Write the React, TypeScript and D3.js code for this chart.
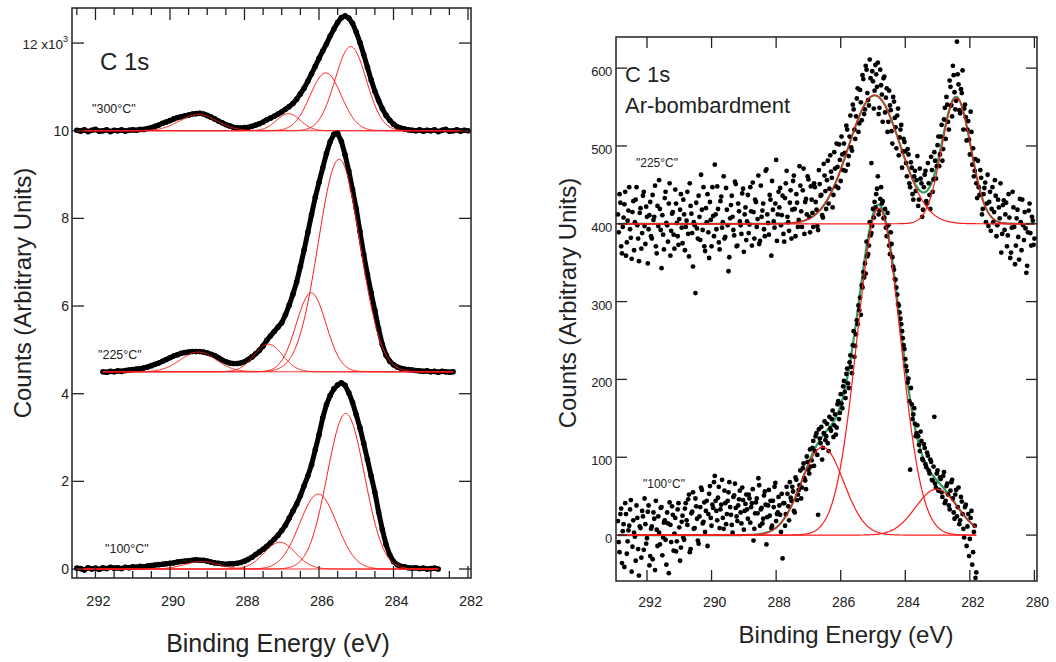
import React, { useRef, useEffect } from 'react';
import * as d3 from 'd3';

// ---------- left panel: C 1s after annealing, counts in units of 10^3, 0.1 eV steps
const LEFT_STEP = 0.1;
const spec300Start = 292.5;
const spec300 = [
  10.01, 9.99, 10.02, 9.98, 10.01, 10.03, 9.99, 10.0, 10.02, 9.98,
  10.01, 10.0, 10.02, 9.99, 10.01, 10.02, 10.01, 10.03, 10.03, 10.05,
  10.07, 10.1, 10.13, 10.17, 10.2, 10.23, 10.27, 10.3, 10.32, 10.34,
  10.36, 10.38, 10.39, 10.4, 10.38, 10.35, 10.31, 10.27, 10.22, 10.18,
  10.14, 10.11, 10.08, 10.07, 10.06, 10.07, 10.08, 10.1, 10.13, 10.16,
  10.2, 10.25, 10.29, 10.33, 10.38, 10.43, 10.49, 10.55, 10.62, 10.72,
  10.84, 10.97, 11.13, 11.3, 11.47, 11.65, 11.82, 11.98, 12.16, 12.32,
  12.47, 12.58, 12.62, 12.57, 12.45, 12.25, 12.01, 11.74, 11.45, 11.16,
  10.9, 10.69, 10.5, 10.35, 10.24, 10.15, 10.09, 10.06, 10.04, 10.02,
  10.01, 10.0, 10.02, 9.99, 10.01, 10.0, 10.02, 9.98, 10.01, 10.03,
  9.99, 10.0, 10.02, 9.99, 10.01, 10.0,
];
const spec225Start = 291.8;
const spec225 = [
  4.5, 4.49, 4.51, 4.5, 4.52, 4.51, 4.53, 4.54, 4.55, 4.56,
  4.57, 4.59, 4.61, 4.64, 4.67, 4.7, 4.74, 4.78, 4.82, 4.86,
  4.89, 4.92, 4.94, 4.95, 4.96, 4.96, 4.96, 4.95, 4.93, 4.9,
  4.87, 4.82, 4.77, 4.73, 4.7, 4.69, 4.69, 4.7, 4.73, 4.78,
  4.84, 4.91, 4.99, 5.09, 5.22, 5.32, 5.42, 5.52, 5.62, 5.8,
  6.02, 6.27, 6.55, 6.9, 7.28, 7.68, 8.09, 8.48, 8.82, 9.15,
  9.48, 9.75, 9.92, 9.94, 9.76, 9.45, 9.08, 8.66, 8.22, 7.7,
  7.18, 6.72, 6.3, 5.9, 5.48, 5.12, 4.88, 4.74, 4.66, 4.61,
  4.58, 4.56, 4.55, 4.54, 4.53, 4.52, 4.51, 4.52, 4.5, 4.51,
  4.49, 4.51, 4.5, 4.49, 4.5,
];
const spec100Start = 292.5;
const spec100 = [
  0.02, 0.01, -0.02, 0.03, 0.0, 0.02, -0.01, 0.03, 0.01, 0.04,
  0.02, 0.03, 0.01, 0.04, 0.03, 0.05, 0.04, 0.06, 0.05, 0.07,
  0.08, 0.09, 0.1, 0.11, 0.12, 0.13, 0.14, 0.16, 0.17, 0.18,
  0.19, 0.2, 0.21, 0.2, 0.2, 0.18, 0.16, 0.14, 0.13, 0.12,
  0.11, 0.12, 0.12, 0.13, 0.15, 0.18, 0.22, 0.27, 0.33, 0.39,
  0.45, 0.52, 0.6, 0.68, 0.77, 0.88, 1.0, 1.16, 1.32, 1.48,
  1.67, 1.9, 2.12, 2.38, 2.72, 3.06, 3.45, 3.75, 3.96, 4.11,
  4.2, 4.25, 4.19, 4.02, 3.8, 3.52, 3.22, 2.87, 2.5, 2.12,
  1.75, 1.3, 0.9, 0.56, 0.32, 0.17, 0.1, 0.06, 0.05, 0.03,
  0.02, 0.03, 0.01, 0.02, 0.0, 0.01, 0.02, 0.0,
];
// fit components: [centre eV, height above baseline, sigma eV]
const fit300 = [[285.15, 1.92, 0.42], [285.82, 1.32, 0.42], [286.82, 0.39, 0.32], [289.24, 0.37, 0.5]];
const fit225 = [[285.46, 4.85, 0.56], [286.21, 1.8, 0.4], [287.36, 0.63, 0.38], [289.24, 0.45, 0.48]];
const fit100 = [[285.28, 3.55, 0.5], [286.02, 1.71, 0.5], [287.05, 0.61, 0.42], [289.15, 0.17, 0.45]];
const leftBaselines = [10, 4.5, 0];
const leftLabels = ['"300°C"', '"225°C"', '"100°C"'];
const leftXTicks = [292, 290, 288, 286, 284, 282];
const leftYTicks = [0, 2, 4, 6, 8, 10, 12];

// ---------- right panel: C 1s after Ar bombardment, two interleaved scans, 0.05 eV steps
const RIGHT_STEP = 0.05;
const ar225Start = 292.9;
const ar225 = [
  412, 438, 371, 396, 425, 359, 404, 447, 382, 415, 366, 431, 398, 352, 420, 388, 441, 374, 409, 393,
  428, 381, 405, 449, 362, 397, 419, 343, 386, 433, 401, 377, 452, 391, 415, 368, 426, 384, 406, 438,
  375, 412, 396, 441, 358, 423, 388, 402, 311, 394, 436, 379, 418, 447, 365, 402, 389, 428, 371, 410,
  476, 393, 419, 367, 435, 402, 381, 446, 398, 357, 424, 409, 385, 451, 372, 416, 398, 439, 364, 421,
  403, 388, 447, 372, 415, 431, 396, 462, 378, 409, 426, 384, 470, 401, 437, 359, 418, 395, 482, 412,
  421, 398, 436, 377, 452, 409, 391, 443, 418, 462, 384, 427, 405, 449, 396, 471, 428, 412, 457, 389,
  431, 396, 447, 418, 392, 451, 437, 408, 462, 419, 481, 445, 467, 421, 492, 448, 473, 502, 455, 489,
  503, 468, 521, 487, 539, 494, 547, 509, 561, 518, 572, 533, 586, 547, 598, 559, 611, 478, 583, 571,
  592, 607, 549, 578, 531, 589, 562, 518, 571, 546, 503, 557, 524, 539, 488, 521, 472, 509, 493, 461,
  489, 447, 472, 431, 468, 456, 423, 471, 452, 418, 463, 429, 478, 437, 486, 441, 492, 458, 501, 474,
  512, 481, 534, 509, 553, 521, 576, 538, 591, 547, 634, 579, 542, 568, 521, 553, 507, 532, 489, 518,
  497, 468, 452, 481, 437, 459, 419, 446, 402, 463, 428, 391, 447, 415, 436, 398, 421, 452, 387, 430,
  412, 371, 438, 356, 395, 421, 348, 407, 383, 432, 366, 398, 415, 337, 389, 426, 372, 404, 381,
];
const ar225bStart = 292.875;
const ar225b = [
  389, 427, 362, 408, 441, 376, 417, 393, 355, 429, 402, 447, 381, 414, 368, 436, 397, 422, 349, 411,
  384, 437, 409, 371, 423, 456, 392, 411, 367, 441, 398, 426, 359, 413, 386, 444, 401, 373, 418, 395,
  431, 366, 404, 387, 452, 413, 345, 398, 427, 381, 409, 463, 392, 371, 420, 438, 356, 405, 447, 384,
  412, 448, 376, 429, 395, 461, 383, 418, 339, 407, 436, 392, 454, 371, 426, 403, 387, 445, 412, 379,
  437, 399, 416, 453, 381, 428, 406, 374, 449, 417, 393, 468, 412, 386, 431, 455, 403, 426, 378, 441,
  446, 411, 387, 433, 468, 402, 427, 381, 455, 419, 438, 396, 474, 416, 443, 387, 432, 461, 409, 448,
  414, 452, 428, 397, 469, 436, 411, 477, 442, 456, 426, 488, 459, 437, 471, 503, 446, 482, 512, 469,
  491, 526, 476, 512, 498, 553, 521, 538, 574, 529, 556, 591, 541, 603, 568, 552, 587, 596, 548, 604,
  576, 541, 598, 566, 587, 543, 574, 531, 552, 519, 563, 536, 497, 548, 511, 527, 493, 505, 478, 496,
  452, 479, 438, 461, 442, 487, 431, 458, 409, 447, 468, 426, 452, 419, 469, 457, 481, 474, 512, 489,
  527, 496, 549, 563, 531, 584, 552, 603, 569, 558, 592, 546, 573, 597, 548, 537, 521, 508, 544, 476,
  461, 483, 433, 447, 469, 412, 438, 453, 426, 397, 441, 419, 402, 456, 384, 431, 407, 363, 424, 392,
  427, 385, 408, 363, 441, 396, 372, 418, 354, 402, 431, 379, 394, 346, 417, 388, 409, 373,
];
const ar100Start = 292.9;
const ar100 = [
  18, -22, 34, 5, -41, 27, -8, 12, 45, -15, 3, -33, 22, -52, 9, 31, -19, 14, -4, 38,
  -27, 11, 29, -45, 7, 24, -12, 36, -3, 19, -38, 15, 42, -9, 26, 2, -21, 33, 10, -16,
  25, -6, 41, 13, 52, -18, 30, 8, 47, 21, -11, 36, 58, 17, 4, 44, 27, 63, 12, 35,
  76, 31, 48, 9, 39, 22, 57, 14, 44, 68, 26, 3, 51, 35, 18, 46, 29, 61, 7, 40,
  33, 52, 16, 41, -7, 28, 47, 73, 12, 35, 21, 56, -12, 38, 25, 9, 44, 62, 18, 29,
  38, 4, -30, 41, 27, 53, 19, 48, 62, 31, 74, 45, 58, 83, 61, 92, 70, 101, 84, 110,
  96, 121, 108, 131, 26, 124, 139, 112, 146, 127, 118, 152, 134, 160, 141, 129, 168, 149, 181, 163,
  198, 176, 214, 189, 231, 208, 262, 243, 276, 295, 305, 321, 338, 349, 377, 361, 402, 388, 419, 428,
  438, 461, 417, 447, 429, 408, 395, 414, 372, 389, 357, 341, 328, 309, 295, 278, 262, 244, 226, 211,
  201, 84, 168, 155, 143, 131, 127, 108, 121, 96, 112, 87, 102, 79, 94, 70, 152, 61, 83, 58,
  72, 49, 81, 44, 66, 38, 57, 71, 29, 52, 24, 61, 19, 43, 8, 36, -14, 27, -5, 31,
  -22, 12, -48,
];
const ar100bStart = 292.875;
const ar100b = [
  -9, 27, -36, 14, 41, -24, 6, 33, -47, 19, -2, 38, -18, 11, -29, 24, 47, -11, 30, -39,
  8, -31, 21, 44, -14, 3, 35, -26, 16, -6, 29, -49, 13, 37, -20, 22, -8, 41, -33, 17,
  -3, 34, 19, 46, -22, 28, 55, 9, 37, -7, 24, 61, 15, 42, 31, -14, 53, 22, 39, 68,
  44, 19, 62, 33, 71, 8, 41, 27, 55, 36, 13, 49, 66, 24, 38, 57, 15, 45, 31, 52,
  21, 47, 36, 59, 8, 42, 28, 64, 33, 15, 51, 39, 23, 58, 44, 12, 36, 67, 27, 49,
  26, 53, 41, 12, 62, 37, 68, 44, 56, 29, 71, 52, 64, 47, 86, 73, 59, 94, 79, 88,
  112, 89, 127, 103, 136, 118, 97, 131, 122, 143, 108, 137, 149, 126, 155, 138, 172, 157, 169, 191,
  184, 207, 195, 222, 216, 244, 229, 258, 271, 289, 283, 318, 331, 336, 358, 372, 385, 397, 408, 421,
  445, 412, 432, 426, 407, 419, 384, 398, 361, 374, 345, 329, 318, 297, 286, 271, 253, 239, 217, 196,
  172, 189, 149, 163, 127, 141, 116, 133, 98, 117, 91, 106, 83, 97, 71, 88, 66, 79, 57, 74,
  55, 76, 41, 63, 52, 33, 68, 47, 21, 58, 36, 14, 49, 27, -3, 39, 11, -27, 22, -38,
  4, -55,
];
const fitAr225 = [[284.95, 165, 0.8], [282.42, 162, 0.45]];
const fitAr100 = [[284.82, 420, 0.67], [286.56, 113, 0.65], [283.03, 59, 0.65]];
const rightBaselines = [400, 0];
const rightLabels = ['"225°C"', '"100°C"'];
const rightXTicks = [292, 290, 288, 286, 284, 282, 280];
const rightYTicks = [0, 100, 200, 300, 400, 500, 600];

const FONT = '"Liberation Sans", Arial, Helvetica, sans-serif';
const RED = '#ff1a1a';
const GREEN = '#2e9e5e';

const gauss = (e, c, h, s) => h * Math.exp(-((e - c) * (e - c)) / (2 * s * s));

export default function App() {
  const svgRef = useRef(null);

  useEffect(() => {
    const svg = d3.select(svgRef.current);
    svg.selectAll('*').remove();

    const toPoints = (start, step, vals) => vals.map((v, i) => [start - i * step, v]);

    // component / fit curves sampled over the span of a spectrum
    const curve = (e0, e1, base, comps) =>
      d3.range(0, Math.round((e0 - e1) / 0.02) + 1).map(i => {
        const e = e0 - i * 0.02;
        return [e, base + d3.sum(comps, c => gauss(e, c[0], c[1], c[2]))];
      });

    function frame(g, x, y, xMajor, xMinor, yMajor, majorLen, minorLen) {
      const [x0, x1] = x.range();
      const [y0, y1] = y.range(); // bottom, top
      const t = g.append('g').attr('stroke', '#222').attr('stroke-width', 1.3);
      xMajor.forEach(v => {
        t.append('line').attr('x1', x(v)).attr('x2', x(v)).attr('y1', y1).attr('y2', y1 + majorLen);
        t.append('line').attr('x1', x(v)).attr('x2', x(v)).attr('y1', y0).attr('y2', y0 - majorLen);
      });
      xMinor.forEach(v => {
        t.append('line').attr('x1', x(v)).attr('x2', x(v)).attr('y1', y1).attr('y2', y1 + minorLen);
        t.append('line').attr('x1', x(v)).attr('x2', x(v)).attr('y1', y0).attr('y2', y0 - minorLen);
      });
      yMajor.forEach(v => {
        t.append('line').attr('x1', x0).attr('x2', x0 + majorLen).attr('y1', y(v)).attr('y2', y(v));
        t.append('line').attr('x1', x1).attr('x2', x1 - majorLen).attr('y1', y(v)).attr('y2', y(v));
      });
      g.append('rect')
        .attr('x', x0).attr('y', y1).attr('width', x1 - x0).attr('height', y0 - y1)
        .attr('fill', 'none').attr('stroke', '#222').attr('stroke-width', 1.5);
    }

    // ================= left panel =================
    const xL = d3.scaleLinear().domain([292.63, 281.92]).range([72, 471]);
    const yL = d3.scaleLinear().domain([-0.205, 12.8]).range([578, 8]);
    const gL = svg.append('g');
    const lineL = d3.line().x(d => xL(d[0])).y(d => yL(d[1]));

    const leftSpectra = [
      { start: spec300Start, vals: spec300, fit: fit300 },
      { start: spec225Start, vals: spec225, fit: fit225 },
      { start: spec100Start, vals: spec100, fit: fit100 },
    ];
    leftSpectra.forEach((s, k) => {
      const pts = toPoints(s.start, LEFT_STEP, s.vals);
      gL.append('path').attr('d', lineL(pts)).attr('fill', 'none')
        .attr('stroke', '#000').attr('stroke-width', 5).attr('stroke-linejoin', 'round');
      gL.append('g').selectAll('circle').data(pts).join('circle')
        .attr('cx', d => xL(d[0])).attr('cy', d => yL(d[1])).attr('r', 2.8).attr('fill', '#000');
      const e0 = s.start;
      const e1 = s.start - (s.vals.length - 1) * LEFT_STEP;
      s.fit.forEach(c => {
        gL.append('path').attr('d', lineL(curve(e0, e1, leftBaselines[k], [c])))
          .attr('fill', 'none').attr('stroke', RED).attr('stroke-width', 1);
      });
    });

    const xMinorL = d3.range(292.5, 281.9, -0.5).filter(v => Math.abs(v - Math.round(v / 2) * 2) > 0.01);
    frame(gL, xL, yL, leftXTicks, xMinorL, leftYTicks, 12, 7);

    const tl = gL.append('g').style('font-family', FONT).attr('fill', '#222');
    leftXTicks.forEach(v => {
      tl.append('text').attr('x', xL(v) + 3).attr('y', 606).attr('text-anchor', 'middle')
        .style('font-size', '14.5px').text(v);
    });
    leftYTicks.filter(v => v < 12).forEach(v => {
      tl.append('text').attr('x', 69).attr('y', yL(v) + 5).attr('text-anchor', 'end')
        .style('font-size', '14px').text(v);
    });
    const t12 = tl.append('text').attr('x', 68).attr('y', yL(12) + 6).attr('text-anchor', 'end')
      .style('font-size', '13.5px');
    t12.append('tspan').text('12 x10');
    t12.append('tspan').attr('dy', -7).style('font-size', '9px').text('3');

    tl.append('text').attr('x', 100).attr('y', 70).style('font-size', '24px').text('C 1s');
    const leftLabelPos = [[92, 113], [98, 359], [105, 553]];
    leftLabels.forEach((s, i) => {
      tl.append('text').attr('x', leftLabelPos[i][0]).attr('y', leftLabelPos[i][1])
        .style('font-size', '12.5px').text(s);
    });
    tl.append('text').attr('transform', 'translate(31,293) rotate(-90)').attr('text-anchor', 'middle')
      .style('font-size', '24px').text('Counts (Arbitrary Units)');
    tl.append('text').attr('x', 278).attr('y', 652).attr('text-anchor', 'middle')
      .style('font-size', '25px').text('Binding Energy (eV)');

    // ================= right panel =================
    const xR = d3.scaleLinear().domain([292.96, 279.92]).range([616, 1037]);
    const yR = d3.scaleLinear().domain([-59, 640]).range([581, 37]);
    const gR = svg.append('g');
    const lineR = d3.line().x(d => xR(d[0])).y(d => yR(d[1]));

    const rightSpectra = [
      { start: ar225Start, vals: ar225, start2: ar225bStart, vals2: ar225b, fit: fitAr225 },
      { start: ar100Start, vals: ar100, start2: ar100bStart, vals2: ar100b, fit: fitAr100 },
    ];
    rightSpectra.forEach((s, k) => {
      const e0 = s.start;
      const e1 = s.start - (s.vals.length - 1) * RIGHT_STEP;
      gR.append('path').attr('d', lineR(curve(e0, e1, rightBaselines[k], s.fit)))
        .attr('fill', 'none').attr('stroke', GREEN).attr('stroke-width', 2.2);
    });
    rightSpectra.forEach(s => {
      const pts = toPoints(s.start, RIGHT_STEP, s.vals).concat(toPoints(s.start2, RIGHT_STEP, s.vals2));
      gR.append('g').selectAll('circle').data(pts).join('circle')
        .attr('cx', d => xR(d[0])).attr('cy', d => yR(d[1])).attr('r', 2.4).attr('fill', '#000');
    });
    rightSpectra.forEach((s, k) => {
      const e0 = s.start;
      const e1 = s.start - (s.vals.length - 1) * RIGHT_STEP;
      s.fit.forEach(c => {
        gR.append('path').attr('d', lineR(curve(e0, e1, rightBaselines[k], [c])))
          .attr('fill', 'none').attr('stroke', RED).attr('stroke-width', 1.2);
      });
    });

    frame(gR, xR, yR, rightXTicks, [], rightYTicks, 11, 0);

    const tr = gR.append('g').style('font-family', FONT).attr('fill', '#222');
    rightXTicks.forEach(v => {
      tr.append('text').attr('x', xR(v) + 3).attr('y', 607).attr('text-anchor', 'middle')
        .style('font-size', '14px').text(v);
    });
    rightYTicks.forEach(v => {
      tr.append('text').attr('x', 612).attr('y', yR(v) + 8).attr('text-anchor', 'end')
        .style('font-size', '13px').style('letter-spacing', '-0.3px').text(v);
    });
    tr.append('text').attr('x', 625).attr('y', 82).style('font-size', '22px').text('C 1s');
    tr.append('text').attr('x', 625).attr('y', 113).style('font-size', '22px').text('Ar-bombardment');
    const rightLabelPos = [[636, 167], [643, 488]];
    rightLabels.forEach((s, i) => {
      tr.append('text').attr('x', rightLabelPos[i][0]).attr('y', rightLabelPos[i][1])
        .style('font-size', '12px').text(s);
    });
    tr.append('text').attr('transform', 'translate(576,303) rotate(-90)').attr('text-anchor', 'middle')
      .style('font-size', '24px').text('Counts (Arbitrary Units)');
    tr.append('text').attr('x', 846).attr('y', 643).attr('text-anchor', 'middle')
      .style('font-size', '24px').text('Binding Energy (eV)');
  }, []);

  return (
    <svg
      ref={svgRef}
      width={1056}
      height={662}
      style={{ position: 'absolute', left: 0, top: 0, background: '#fff' }}
    />
  );
}
